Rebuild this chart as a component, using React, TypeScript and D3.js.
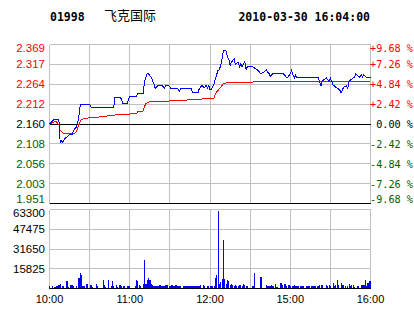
import React from 'react';
import * as d3 from 'd3';

const stockCode = '01998';
const stockName = '飞克国际';
const stamp = '2010-03-30 16:04:00';
const prevClose = 2.16;
const priceLabels = ['2.369', '2.317', '2.264', '2.212', '2.160', '2.108', '2.056', '2.003', '1.951'];
const pctLabels = ['+9.68 %', '+7.26 %', '+4.84 %', '+2.42 %', ' 0.00 %', '-2.42 %', '-4.84 %', '-7.26 %', '-9.68 %'];
const volumeLabels = ['63300', '47475', '31650', '15825'];
const timeLabels = ['10:00', '11:00', '12:00', '15:00', '16:00'];

const priceSeries: [string, number][] = [
  ['10:00', 2.160], ['10:03', 2.171], ['10:07', 2.171], ['10:08', 2.111], ['10:09', 2.116],
  ['10:10', 2.111], ['10:11', 2.120], ['10:13', 2.126], ['10:15', 2.133], ['10:17', 2.133],
  ['10:18', 2.143], ['10:20', 2.152], ['10:21', 2.160], ['10:22', 2.182], ['10:23', 2.211],
  ['10:30', 2.211], ['10:31', 2.204], ['10:48', 2.204], ['10:49', 2.231], ['10:53', 2.231],
  ['10:55', 2.213], ['10:58', 2.213], ['11:00', 2.233], ['11:05', 2.233], ['11:06', 2.241],
  ['11:10', 2.241], ['11:11', 2.270], ['11:12', 2.283], ['11:13', 2.292], ['11:14', 2.292],
  ['11:16', 2.283], ['11:17', 2.275], ['11:18', 2.266], ['11:19', 2.253], ['11:21', 2.261],
  ['11:24', 2.261], ['11:26', 2.255], ['11:27', 2.261], ['11:29', 2.261], ['11:31', 2.253],
  ['11:36', 2.253], ['11:37', 2.246], ['11:38', 2.253], ['11:46', 2.253], ['11:47', 2.242],
  ['11:51', 2.242], ['11:52', 2.253], ['11:53', 2.257], ['11:54', 2.261], ['11:56', 2.255],
  ['11:57', 2.261], ['11:58', 2.255], ['11:59', 2.261], ['12:00', 2.251], ['12:01', 2.251],
  ['12:02', 2.257], ['12:03', 2.266], ['12:04', 2.279], ['12:06', 2.301], ['12:07', 2.303],
  ['12:08', 2.314], ['12:09', 2.332], ['12:10', 2.352], ['12:12', 2.352], ['12:13', 2.336],
  ['12:14', 2.332], ['12:15', 2.314], ['12:16', 2.323], ['12:17', 2.327], ['12:18', 2.332],
  ['12:19', 2.317], ['12:21', 2.323], ['12:22', 2.311], ['12:23', 2.318], ['12:24', 2.311],
  ['12:26', 2.323], ['12:27', 2.303], ['12:28', 2.311], ['14:32', 2.311], ['14:34', 2.305],
  ['14:36', 2.301], ['14:38', 2.292], ['14:41', 2.298], ['14:42', 2.303], ['14:43', 2.297],
  ['14:44', 2.294], ['14:45', 2.285], ['14:47', 2.292], ['14:55', 2.292], ['14:57', 2.283],
  ['14:58', 2.283], ['15:00', 2.292], ['15:01', 2.301], ['15:02', 2.290], ['15:03', 2.281],
  ['15:04', 2.288], ['15:05', 2.281], ['15:21', 2.281], ['15:22', 2.270], ['15:23', 2.261],
  ['15:24', 2.273], ['15:25', 2.276], ['15:27', 2.281], ['15:28', 2.276], ['15:29', 2.272],
  ['15:30', 2.281], ['15:31', 2.272], ['15:32', 2.263], ['15:34', 2.257], ['15:35', 2.255],
  ['15:37', 2.250], ['15:38', 2.241], ['15:39', 2.250], ['15:40', 2.257], ['15:42', 2.261],
  ['15:43', 2.253], ['15:44', 2.272], ['15:45', 2.276], ['15:47', 2.281], ['15:48', 2.283],
  ['15:49', 2.292], ['15:50', 2.288], ['15:52', 2.283], ['15:53', 2.290], ['15:54', 2.283],
  ['15:55', 2.290], ['15:57', 2.283], ['15:58', 2.281], ['16:00', 2.281],
];

const avgSeries: [string, number][] = [
  ['10:00', 2.160], ['10:03', 2.165], ['10:05', 2.167], ['10:07', 2.158], ['10:08', 2.143],
  ['10:10', 2.136], ['10:11', 2.134], ['10:18', 2.134], ['10:20', 2.139], ['10:21', 2.148],
  ['10:22', 2.158], ['10:23', 2.168], ['10:24', 2.172], ['10:26', 2.174], ['10:31', 2.177],
  ['10:36', 2.178], ['10:41', 2.180], ['10:47', 2.183], ['10:53', 2.185], ['10:58', 2.186],
  ['11:05', 2.187], ['11:06', 2.192], ['11:10', 2.194], ['11:11', 2.206], ['11:12', 2.213],
  ['11:15', 2.219], ['11:16', 2.220], ['11:29', 2.220], ['11:31', 2.222], ['11:53', 2.224],
  ['11:54', 2.226], ['12:03', 2.228], ['12:04', 2.240], ['12:06', 2.248], ['12:08', 2.257],
  ['12:10', 2.266], ['12:12', 2.268], ['12:16', 2.269], ['14:32', 2.270], ['14:33', 2.272],
  ['16:00', 2.273],
];

// one value per trading minute, starting 10:00
const volumeValues = [
  1900, 0, 1900, 0, 1600, 2100, 1900, 2700, 3500, 0,
  2100, 0, 0, 5900, 1300, 0, 2700, 3200, 2100, 0,
  1900, 0, 8800, 12800, 11200, 1900, 2100, 0, 4000, 0,
  0, 2700, 1300, 0, 0, 4000, 2100, 0, 0, 0,
  6700, 2700, 1300, 0, 6700, 0, 1900, 5900, 1900, 0,
  2700, 1300, 3200, 2700, 2100, 1900, 1900, 0, 1900, 1900,
  1900, 0, 0, 0, 1900, 6700, 5900, 2700, 1900, 0,
  4000, 22700, 4000, 6700, 8500, 6700, 4000, 2700, 1900, 1900,
  1900, 1900, 2700, 2700, 1900, 1900, 1900, 2700, 2700, 0,
  1900, 2700, 2700, 1900, 3200, 3200, 1900, 1900, 1900, 0,
  1900, 1900, 1900, 1900, 1900, 1900, 1900, 1900, 1900, 1900,
  1900, 1900, 1900, 2700, 0, 3200, 2100, 0, 1900, 1900,
  1900, 1900, 1900, 1900, 8500, 11200, 62000, 4000, 5300, 8000,
  38700, 7500, 4000, 6700, 5900, 2700, 4000, 2700, 1900, 2700,
  1900, 1900, 2700, 2700, 1900, 4000, 2700, 1900, 1900, 0,
  0, 0, 1900, 12800, 0, 0, 0, 0, 9600, 0,
  0, 0, 3200, 1900, 1900, 1900, 2700, 1900, 0, 4000,
  1300, 0, 0, 4800, 3200, 0, 4000, 1900, 0, 3200,
  1900, 0, 1900, 2700, 1900, 1900, 1900, 0, 1900, 1900,
  1900, 0, 1900, 1900, 1900, 0, 1900, 1900, 1900, 1900,
  1900, 1900, 2700, 2700, 2700, 0, 0, 3200, 1900, 3200,
  1900, 0, 4800, 1900, 2700, 6700, 2700, 0, 4800, 2700,
  2700, 1900, 0, 1900, 4000, 1900, 3200, 3200, 1300, 0,
  1900, 1900, 0, 2700, 3200, 2700, 6700, 1900, 4800, 5900,
  5900,
];

const toIndex = (t: string) => {
  const [h, m] = t.split(':').map(Number);
  const tot = h * 60 + m;
  return tot <= 750 ? tot - 600 : 150 + (tot - 870);
};

const W = 414;
const H = 314;

export default function App() {
  const x = d3.scaleLinear().domain([0, 240]).range([49.5, 370.5]);
  const lo = prevClose * (1 - 0.0968);
  const hi = prevClose * (1 + 0.0968);
  const yP = d3.scaleLinear().domain([lo, hi]).range([203.5, 44.5]);
  const yV = d3.scaleLinear().domain([0, 63300]).range([288.5, 209.5]);

  const rowVals = d3.range(9).map((k) => hi - (k * (hi - lo)) / 8);
  const colIdx = d3.range(9).map((k) => k * 30);
  const volRows = d3.range(5).map((k) => 63300 - k * 15825);

  const line = d3
    .line<[string, number]>()
    .x((d) => x(toIndex(d[0])))
    .y((d) => yP(d[1]));

  const grey = '#c0c0c0';
  const green = '#006000';
  const sans = '"Liberation Sans", Arial, sans-serif';
  const mono = '"DejaVu Sans Mono", monospace';

  const labelColor = (k: number) => (k < 4 ? '#ff0000' : k === 4 ? '#000000' : green);
  const labelBase = (k: number, y: number) => (k === 0 ? y + 7.5 : k === 8 ? y - 0.5 : y + 4);

  return (
    <svg
      width={W}
      height={H}
      style={{ position: 'fixed', left: 0, top: 0, background: '#fff' }}
    >
      <rect x={0} y={0} width={W} height={H} fill="#fff" />
      {/* header */}
      <text x={50} y={20.5} fontFamily={mono} fontWeight="bold" fontSize={11.5} fill="#000">
        {stockCode}
      </text>
      <text x={104} y={20} fontFamily='"Noto Sans CJK SC", sans-serif' fontSize={13} fill="#000">
        {stockName}
      </text>
      <text x={370} y={20.5} textAnchor="end" fontFamily={mono} fontWeight="bold" fontSize={11.5} fill="#000">
        {stamp}
      </text>

      {/* price grid */}
      <g shapeRendering="crispEdges">
        {colIdx.map((c) => (
          <line key={'pc' + c} x1={x(c)} x2={x(c)} y1={yP(hi)} y2={yP(lo)} stroke={grey} />
        ))}
        {rowVals.map((v, k) => (
          <line
            key={'pr' + k}
            x1={x(0)}
            x2={x(240)}
            y1={yP(v)}
            y2={yP(v)}
            stroke={k === 4 || k === 8 ? '#000' : grey}
          />
        ))}
      </g>

      {/* price labels */}
      {rowVals.map((v, k) => (
        <text
          key={'pl' + k}
          x={45}
          y={labelBase(k, yP(v))}
          textAnchor="end"
          fontFamily={sans}
          fontSize={11.5}
          fill={labelColor(k)}
        >
          {priceLabels[k]}
        </text>
      ))}
      {rowVals.map((v, k) => (
        <text
          key={'rl' + k}
          x={370}
          y={labelBase(k, yP(v))}
          fontFamily={mono}
          fontSize={10.2}
          fill={labelColor(k)}
          style={{ whiteSpace: 'pre' }}
        >
          {pctLabels[k]}
        </text>
      ))}

      {/* lines */}
      <path d={line(avgSeries) || ''} fill="none" stroke="#ff0000" strokeWidth={1} shapeRendering="crispEdges" />
      <path d={line(priceSeries) || ''} fill="none" stroke="#0000ff" strokeWidth={1} shapeRendering="crispEdges" />

      {/* volume grid */}
      <g shapeRendering="crispEdges">
        {colIdx.map((c) => (
          <line key={'vc' + c} x1={x(c)} x2={x(c)} y1={yV(63300)} y2={yV(0)} stroke={grey} />
        ))}
        {volRows.map((v, k) => (
          <line key={'vr' + k} x1={x(0)} x2={x(240)} y1={yV(v)} y2={yV(v)} stroke={k === 4 ? '#000' : grey} />
        ))}
        {volumeValues.map((v, i) =>
          v > 0 ? (
            <rect
              key={'vb' + i}
              x={x(i) - 0.5}
              width={1.2}
              y={yV(v)}
              height={yV(0) - yV(v)}
              fill="#0000ff"
            />
          ) : null
        )}
        <line x1={x(0)} x2={x(240)} y1={yV(0)} y2={yV(0)} stroke="#000" />
      </g>

      {volumeLabels.map((l, k) => (
        <text
          key={'vl' + k}
          x={45}
          y={k === 0 ? yV(63300) + 7.5 : yV(63300 - k * 15825) + 4}
          textAnchor="end"
          fontFamily={sans}
          fontSize={11.5}
          fill="#000"
        >
          {l}
        </text>
      ))}

      {timeLabels.map((t) => (
        <text
          key={'tl' + t}
          x={x(toIndex(t))}
          y={303}
          textAnchor="middle"
          fontFamily={sans}
          fontSize={11}
          fill="#000"
        >
          {t}
        </text>
      ))}
    </svg>
  );
}
